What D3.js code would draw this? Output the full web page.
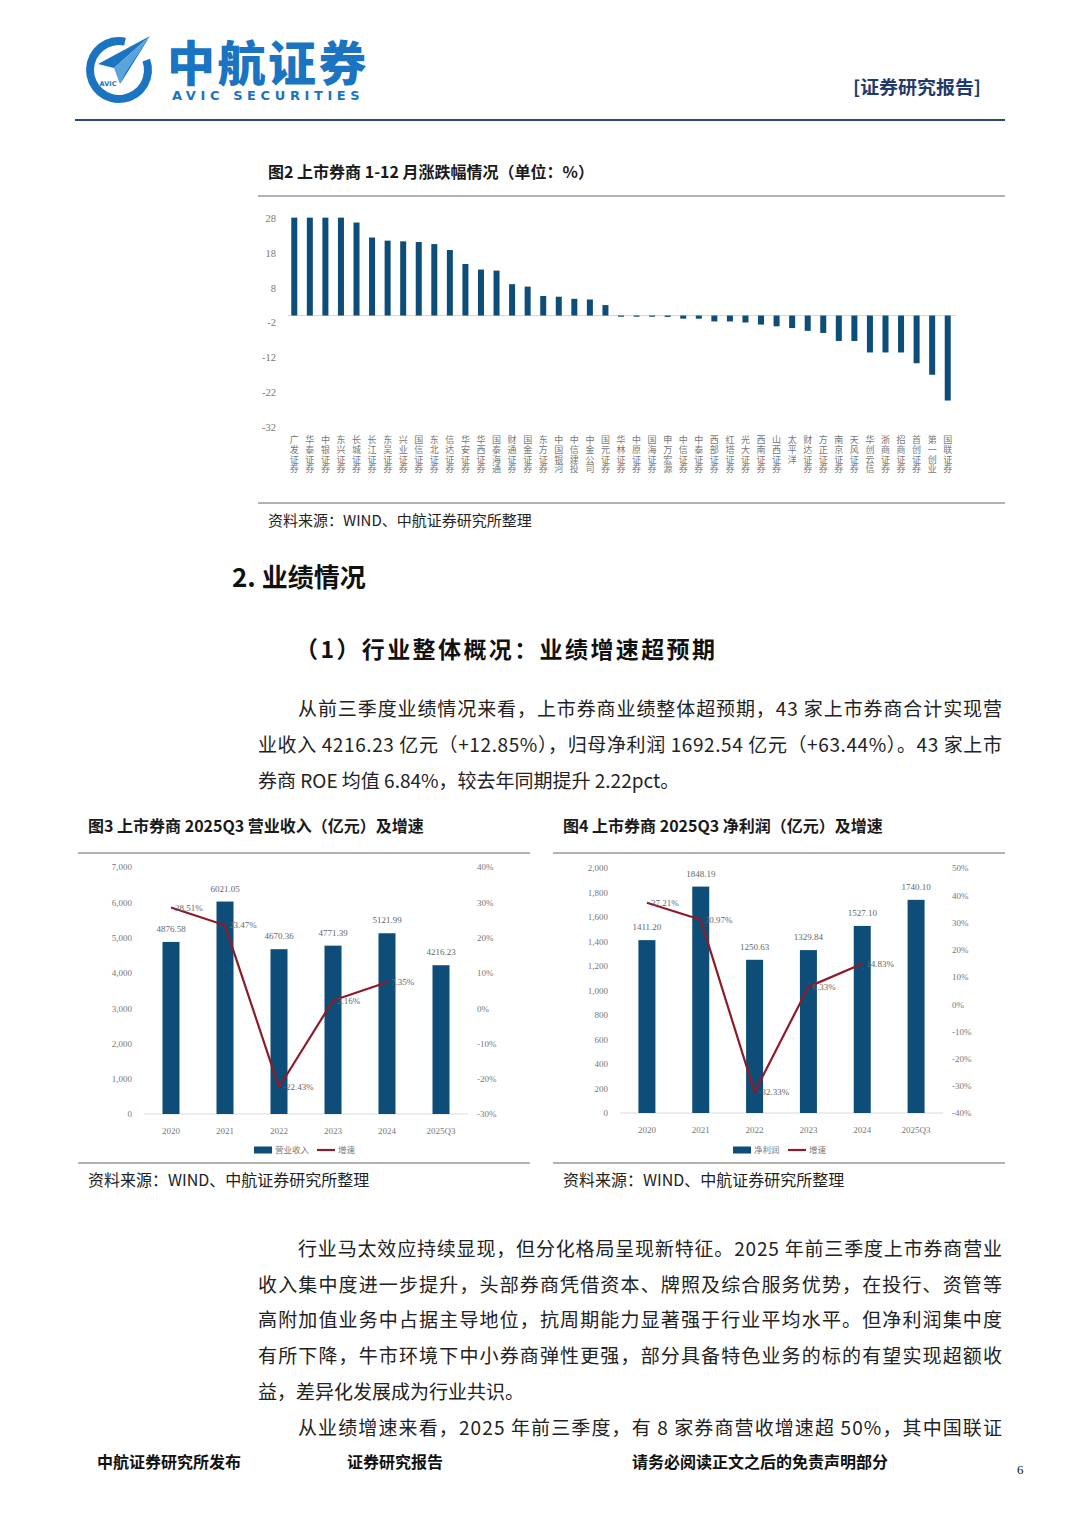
<!DOCTYPE html>
<html><head><meta charset="utf-8">
<script src="https://cdn.jsdelivr.net/npm/d3@7/dist/d3.min.js"></script>
<style>
html,body{margin:0;padding:0;background:#fff;}
svg{display:block;}
</style></head>
<body>
<svg id="page" width="1080" height="1527"></svg>
<script>
// ---------- DATA ----------
const brokers = ["广发证券","华泰证券","中银证券","东兴证券","长城证券","长江证券","东吴证券","兴业证券","国信证券","东北证券","信达证券","华安证券","华西证券","国泰海通","财通证券","国金证券","东方证券","中国银河","中信建投","中金公司","国元证券","华林证券","中原证券","国海证券","申万宏源","中信证券","中泰证券","西部证券","红塔证券","光大证券","西南证券","山西证券","太平洋","财达证券","方正证券","南京证券","天风证券","华创云信","浙商证券","招商证券","首创证券","第一创业","国联证券"];
const changes = [28.1,28.1,28.1,28.1,26.7,22.4,21.5,21.3,21.1,20.5,18.8,14.8,13.2,12.9,9.0,8.3,5.6,5.4,4.8,4.6,3.0,-0.2,-0.3,-0.3,-0.4,-0.9,-0.9,-1.7,-1.7,-2.0,-2.6,-3.1,-3.6,-4.4,-5.0,-7.3,-7.3,-10.6,-10.6,-10.6,-13.7,-17.0,-24.4];
const changeTicks = [28,18,8,-2,-12,-22,-32];

const years = ["2020","2021","2022","2023","2024","2025Q3"];
const revenue = [4876.58,6021.05,4670.36,4771.39,5121.99,4216.23];
const revenueGrowth = [28.51,23.47,-22.43,2.16,7.35];
const revenueTicks = [0,1000,2000,3000,4000,5000,6000,7000];
const revenueGrowthTicks = [-30,-20,-10,0,10,20,30,40];

const netProfit = [1411.20,1848.19,1250.63,1329.84,1527.10,1740.10];
const profitGrowth = [37.21,30.97,-32.33,6.33,14.83];
const profitTicks = [0,200,400,600,800,1000,1200,1400,1600,1800,2000];
const profitGrowthTicks = [-40,-30,-20,-10,0,10,20,30,40,50];

// ---------- STYLE ----------
const BAR = "#0d4d77";
const LINE = "#8b1c2c";
const CJK = "'Noto Sans CJK SC','Noto Sans',sans-serif";
const SERIF = "'Liberation Serif','DejaVu Serif',serif";
const svg = d3.select("#page");

// ---------- HEADER ----------
const logo = svg.append("g");
const ringArc = d3.arc().innerRadius(25).outerRadius(33)
  .startAngle(70*Math.PI/180).endAngle(372*Math.PI/180);
logo.append("path").attr("d", ringArc()).attr("transform","translate(119,70)").attr("fill","#1b74c2");
logo.append("path").attr("d","M150,36 L98,64 L114,68 Z").attr("fill","#1b74c2");
logo.append("path").attr("d","M150,36 L114,68 L120,84 Z").attr("fill","#5aa3dc");
logo.append("path").attr("d","M150,36 L120,84 L126,72 Z").attr("fill","#1b74c2");
logo.append("text").attr("x",108).attr("y",86).attr("font-family","'DejaVu Sans',sans-serif")
  .attr("font-size",6.5).attr("font-weight","bold").attr("fill","#1b74c2").attr("text-anchor","middle").text("AVIC");
const brand = svg.append("text").attr("fill","#1b74c2");
brand.append("tspan").attr("x",167).attr("y",81).attr("font-family",CJK).attr("font-weight",900)
  .attr("font-size",48).attr("letter-spacing",2.5).text("中航证券");
brand.append("tspan").attr("x",172).attr("y",100).attr("font-family","'DejaVu Sans',sans-serif")
  .attr("font-weight","bold").attr("font-size",13).attr("letter-spacing",4.6).text("AVIC SECURITIES");
svg.append("text").attr("x",853).attr("y",94).attr("font-family",CJK).attr("font-weight","bold")
  .attr("font-size",18).attr("fill","#1f3a6b").attr("textLength",128).attr("lengthAdjust","spacingAndGlyphs").text("[证券研究报告]");
svg.append("line").attr("x1",75).attr("x2",1005).attr("y1",120).attr("y2",120).attr("stroke","#2a4a7c").attr("stroke-width",2);

// ---------- FIGURE 2 ----------
svg.append("text").attr("x",268).attr("y",178).attr("font-family",CJK).attr("font-weight","bold")
  .attr("font-size",16).attr("fill","#1a1a1a").text("图2  上市券商 1-12 月涨跌幅情况（单位：%）");
svg.append("line").attr("x1",258).attr("x2",1005).attr("y1",196).attr("y2",196).attr("stroke","#666").attr("stroke-width",1);
svg.append("line").attr("x1",258).attr("x2",1005).attr("y1",503).attr("y2",503).attr("stroke","#666").attr("stroke-width",1);

const x2 = d3.scaleBand().domain(brokers).range([286.5,955.5]);
const y2 = d3.scaleLinear().domain([-32,28]).range([427,218]);
const g2 = svg.append("g");
g2.append("g").attr("transform","translate(276,0)")
  .call(d3.axisLeft(y2).tickValues(changeTicks).tickFormat(d=>String(d)).tickSize(0).tickPadding(0))
  .call(g=>g.select(".domain").remove())
  .call(g=>g.selectAll("text").attr("font-family",SERIF).attr("font-size",10.5).attr("fill","#777"));
g2.append("line").attr("x1",288).attr("x2",956).attr("y1",y2(0)).attr("y2",y2(0)).attr("stroke","#d6d6d6").attr("stroke-width",1);
const bw2 = 6;
g2.selectAll("rect.b").data(changes).join("rect").attr("class","b")
  .attr("x",(d,i)=>x2(brokers[i])+x2.bandwidth()/2-bw2/2)
  .attr("width",bw2)
  .attr("y",d=>Math.min(y2(d),y2(0)))
  .attr("height",d=>Math.max(1.2,Math.abs(y2(d)-y2(0))))
  .attr("fill",BAR);
// vertical labels (top-to-bottom writing mode)
g2.selectAll("text.bl").data(brokers).join("text").attr("class","bl")
  .attr("x",d=>x2(d)+x2.bandwidth()/2).attr("y",435)
  .attr("writing-mode","vertical-rl")
  .style("writing-mode","vertical-rl")
  .attr("letter-spacing",0.8)
  .attr("font-family",CJK).attr("font-size",9).attr("fill","#777")
  .text(d=>d);
svg.append("text").attr("x",268).attr("y",526).attr("font-family",CJK).attr("font-size",15)
  .attr("fill","#222").text("资料来源：WIND、中航证券研究所整理");

// ---------- BODY TEXT ----------
function textLine(x,y,size,str,opts={}){
  const t = svg.append("text").attr("x",x).attr("y",y).attr("font-family",CJK)
    .attr("font-size",size).attr("fill",opts.fill||"#222").text(str);
  if(opts.bold) t.attr("font-weight","bold");
  if(opts.width) t.attr("textLength",opts.width).attr("lengthAdjust","spacing");
  return t;
}
textLine(232,587,26,"2.  业绩情况",{bold:true,fill:"#111"});
textLine(295,658,23,"（1）行业整体概况：业绩增速超预期",{bold:true,fill:"#111",width:420});

const FS = 19;
textLine(298,716,FS,"从前三季度业绩情况来看，上市券商业绩整体超预期，43 家上市券商合计实现营",{width:704});
textLine(258,752,FS,"业收入 4216.23 亿元（+12.85%），归母净利润 1692.54 亿元（+63.44%）。43 家上市",{width:744});
textLine(258,788,FS,"券商 ROE 均值 6.84%，较去年同期提升 2.22pct。");

textLine(298,1256,FS,"行业马太效应持续显现，但分化格局呈现新特征。2025 年前三季度上市券商营业",{width:704});
textLine(258,1292,FS,"收入集中度进一步提升，头部券商凭借资本、牌照及综合服务优势，在投行、资管等",{width:744});
textLine(258,1327,FS,"高附加值业务中占据主导地位，抗周期能力显著强于行业平均水平。但净利润集中度",{width:744});
textLine(258,1363,FS,"有所下降，牛市环境下中小券商弹性更强，部分具备特色业务的标的有望实现超额收",{width:744});
textLine(258,1399,FS,"益，差异化发展成为行业共识。");
textLine(298,1435,FS,"从业绩增速来看，2025 年前三季度，有 8 家券商营收增速超 50%，其中国联证",{width:704});

// ---------- COMBO CHARTS ----------
function combo(cfg){
  const g = svg.append("g");
  g.append("text").attr("x",cfg.titleX).attr("y",832).attr("font-family",CJK).attr("font-weight","bold")
    .attr("font-size",16).attr("fill","#1a1a1a").text(cfg.title);
  g.append("line").attr("x1",cfg.boxL).attr("x2",cfg.boxR).attr("y1",853).attr("y2",853).attr("stroke","#666");
  g.append("line").attr("x1",cfg.boxL).attr("x2",cfg.boxR).attr("y1",1163).attr("y2",1163).attr("stroke","#666");
  g.append("text").attr("x",cfg.titleX).attr("y",1186).attr("font-family",CJK).attr("font-size",16)
    .attr("fill","#222").text("资料来源：WIND、中航证券研究所整理");

  const x = d3.scaleBand().domain(years).range([cfg.plotL,cfg.plotR]);
  const yL = d3.scaleLinear().domain(cfg.leftDomain).range([cfg.bottom,cfg.top]);
  const yR = d3.scaleLinear().domain(cfg.rightDomain).range([cfg.bottom,cfg.top]);
  const fmt = d3.format(",");
  g.append("g").attr("transform",`translate(${cfg.leftLabX},0)`)
    .call(d3.axisLeft(yL).tickValues(cfg.leftTicks).tickFormat(fmt).tickSize(0).tickPadding(0))
    .call(s=>s.select(".domain").remove())
    .call(s=>s.selectAll("text").attr("font-family",SERIF).attr("font-size",9).attr("fill","#777"));
  g.append("g").attr("transform",`translate(${cfg.rightLabX},0)`)
    .call(d3.axisRight(yR).tickValues(cfg.rightTicks).tickFormat(d=>d+"%").tickSize(0).tickPadding(0))
    .call(s=>s.select(".domain").remove())
    .call(s=>s.selectAll("text").attr("font-family",SERIF).attr("font-size",9).attr("fill","#777"));
  g.append("g").attr("transform",`translate(0,${cfg.bottom+14})`)
    .call(d3.axisBottom(x).tickSize(0).tickPadding(0))
    .call(s=>s.select(".domain").remove())
    .call(s=>s.selectAll("text").attr("font-family",SERIF).attr("font-size",9).attr("fill","#777"));
  g.append("line").attr("x1",cfg.plotL).attr("x2",cfg.plotR).attr("y1",cfg.bottom).attr("y2",cfg.bottom)
    .attr("stroke","#d9d9d9");
  const bw = 17;
  g.selectAll("rect.bar").data(cfg.bars).join("rect").attr("class","bar")
    .attr("x",(d,i)=>x(years[i])+x.bandwidth()/2-bw/2).attr("width",bw)
    .attr("y",d=>yL(d)).attr("height",d=>cfg.bottom-yL(d)).attr("fill",BAR);
  g.selectAll("text.bv").data(cfg.bars).join("text").attr("class","bv")
    .attr("x",(d,i)=>x(years[i])+x.bandwidth()/2).attr("y",d=>yL(d)-10)
    .attr("text-anchor","middle").attr("font-family",SERIF).attr("font-size",9).attr("fill","#666")
    .text(d=>d.toFixed(2));
  const pts = cfg.growth.map((d,i)=>[x(years[i])+x.bandwidth()/2, yR(d)]);
  g.append("path").attr("d",d3.line()(pts)).attr("fill","none").attr("stroke",LINE)
    .attr("stroke-width",2.2).attr("stroke-linejoin","round");
  g.selectAll("text.gv").data(cfg.growth).join("text").attr("class","gv")
    .attr("x",(d,i)=>pts[i][0]+4).attr("y",(d,i)=>pts[i][1]+3)
    .attr("font-family",SERIF).attr("font-size",9).attr("fill","#666")
    .text(d=>d.toFixed(2)+"%");
  // legend
  const ly = 1150;
  g.append("rect").attr("x",cfg.legX).attr("y",ly-3.5).attr("width",18).attr("height",7).attr("fill",BAR);
  g.append("text").attr("x",cfg.legX+21).attr("y",ly+3).attr("font-family",CJK).attr("font-size",8.5)
    .attr("fill","#777").text(cfg.barName);
  const lx = cfg.legX+21+cfg.barNameW+8;
  g.append("line").attr("x1",lx).attr("x2",lx+18).attr("y1",ly).attr("y2",ly).attr("stroke",LINE).attr("stroke-width",2.2);
  g.append("text").attr("x",lx+21).attr("y",ly+3).attr("font-family",CJK).attr("font-size",8.5)
    .attr("fill","#777").text("增速");
}
combo({title:"图3  上市券商 2025Q3 营业收入（亿元）及增速", titleX:88, boxL:78, boxR:530,
  plotL:144, plotR:468, top:867, bottom:1114, leftDomain:[0,7000], rightDomain:[-30,40],
  leftTicks:revenueTicks, rightTicks:revenueGrowthTicks, leftLabX:132, rightLabX:477,
  bars:revenue, growth:revenueGrowth, barName:"营业收入", barNameW:34, legX:254});
combo({title:"图4  上市券商 2025Q3 净利润（亿元）及增速", titleX:563, boxL:553, boxR:1005,
  plotL:620, plotR:943, top:868, bottom:1113, leftDomain:[0,2000], rightDomain:[-40,50],
  leftTicks:profitTicks, rightTicks:profitGrowthTicks, leftLabX:608, rightLabX:952,
  bars:netProfit, growth:profitGrowth, barName:"净利润", barNameW:26, legX:733});

// ---------- FOOTER ----------
svg.append("text").attr("x",97).attr("y",1468).attr("font-family",CJK).attr("font-weight","bold").attr("font-size",16).attr("fill","#111").text("中航证券研究所发布");
svg.append("text").attr("x",347).attr("y",1468).attr("font-family",CJK).attr("font-weight","bold").attr("font-size",16).attr("fill","#111").text("证券研究报告");
svg.append("text").attr("x",632).attr("y",1468).attr("font-family",CJK).attr("font-weight","bold").attr("font-size",16).attr("fill","#111").text("请务必阅读正文之后的免责声明部分");
svg.append("text").attr("x",1017).attr("y",1474).attr("font-family",SERIF).attr("font-size",13).attr("fill","#111").text("6");
</script>
</body></html>
